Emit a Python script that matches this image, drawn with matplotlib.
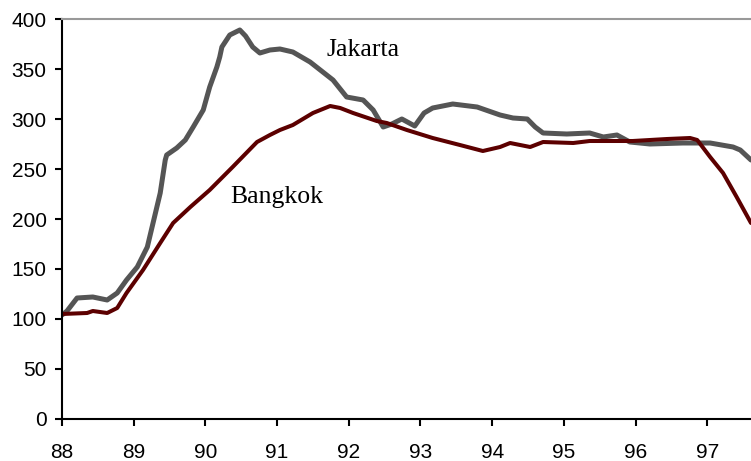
import matplotlib.pyplot as plt

# Jakarta and Bangkok index
jakarta_x = [88.0, 88.07, 88.21, 88.43, 88.63, 88.77, 88.9, 89.05, 89.19, 89.27, 89.37,
             89.44, 89.46, 89.6, 89.72, 89.83, 89.97, 90.06, 90.16, 90.2, 90.23,
             90.34, 90.48, 90.56, 90.66, 90.76, 90.9, 91.04, 91.22, 91.46, 91.78,
             91.97, 92.2, 92.34, 92.48, 92.6, 92.74, 92.92, 93.05, 93.17, 93.45,
             93.79, 94.11, 94.29, 94.49, 94.6, 94.71, 95.04, 95.36, 95.55, 95.74,
             95.92, 96.2, 96.66, 97.04, 97.36, 97.46, 97.61]
jakarta_y = [104, 108, 121, 122, 119, 126, 139, 152, 172, 196, 226,
             259, 264, 271, 279, 292, 309, 332, 352, 362, 372,
             384, 389, 383, 372, 366, 369, 370, 367, 357, 339,
             322, 319, 309, 292, 295, 300, 293, 306, 311, 315,
             312, 304, 301, 300, 292, 286, 285, 286, 282, 284,
             277, 275, 276, 276, 272, 269, 259]

bangkok_x = [88.0, 88.35, 88.43, 88.63, 88.77, 88.9, 88.98, 89.13, 89.37, 89.55, 89.79,
             90.06, 90.38, 90.72, 90.9, 91.04, 91.22, 91.5, 91.74, 91.88, 92.06,
             92.39, 92.53, 92.81, 93.17, 93.55, 93.87, 94.11, 94.25, 94.53, 94.71,
             95.13, 95.36, 95.96, 96.44, 96.76, 96.86, 97.04, 97.22, 97.41, 97.61]
bangkok_y = [105, 106, 108, 106, 111, 126, 134, 149, 176, 196, 212,
             229, 252, 277, 284, 289, 294, 306, 313, 311, 306,
             298, 296, 289, 281, 274, 268, 272, 276, 272, 277,
             276, 278, 278, 280, 281, 279, 262, 246, 222, 196]

year_ticks = [88, 89, 90, 91, 92, 93, 94, 95, 96, 97]
value_ticks = [0, 50, 100, 150, 200, 250, 300, 350, 400]

plt.rcParams['font.family'] = ['Liberation Sans', 'DejaVu Sans']

fig = plt.figure(figsize=(7.51, 4.61), dpi=100)
ax = fig.add_axes([62 / 751, 1 - 419 / 461, (751 - 62) / 751, 400 / 461])

ax.plot(jakarta_x, jakarta_y, color='#555555', lw=3.6, solid_capstyle='round',
        solid_joinstyle='round')
ax.plot(bangkok_x, bangkok_y, color='#5c0000', lw=2.9, solid_capstyle='round',
        solid_joinstyle='round')

ax.text(92.2, 369, 'Jakarta', family='Liberation Serif', fontsize=18.5,
        ha='center', va='center')
ax.text(91.0, 222, 'Bangkok', family='Liberation Serif', fontsize=18.5,
        ha='center', va='center')

ax.set_xlim(88, 97.61)
ax.set_ylim(0, 400)
ax.set_xticks(year_ticks)
ax.set_yticks(value_ticks)
ax.tick_params(axis='both', direction='out', length=5, width=1.5, labelsize=15,
               color='black')
ax.tick_params(axis='x', pad=12)
ax.tick_params(axis='y', pad=6)

for side in ['left', 'bottom']:
    ax.spines[side].set_linewidth(1.5)
ax.spines['right'].set_visible(False)
ax.spines['top'].set_color('#999999')
ax.spines['top'].set_linewidth(1.5)

fig.savefig('out.png', dpi=100)
